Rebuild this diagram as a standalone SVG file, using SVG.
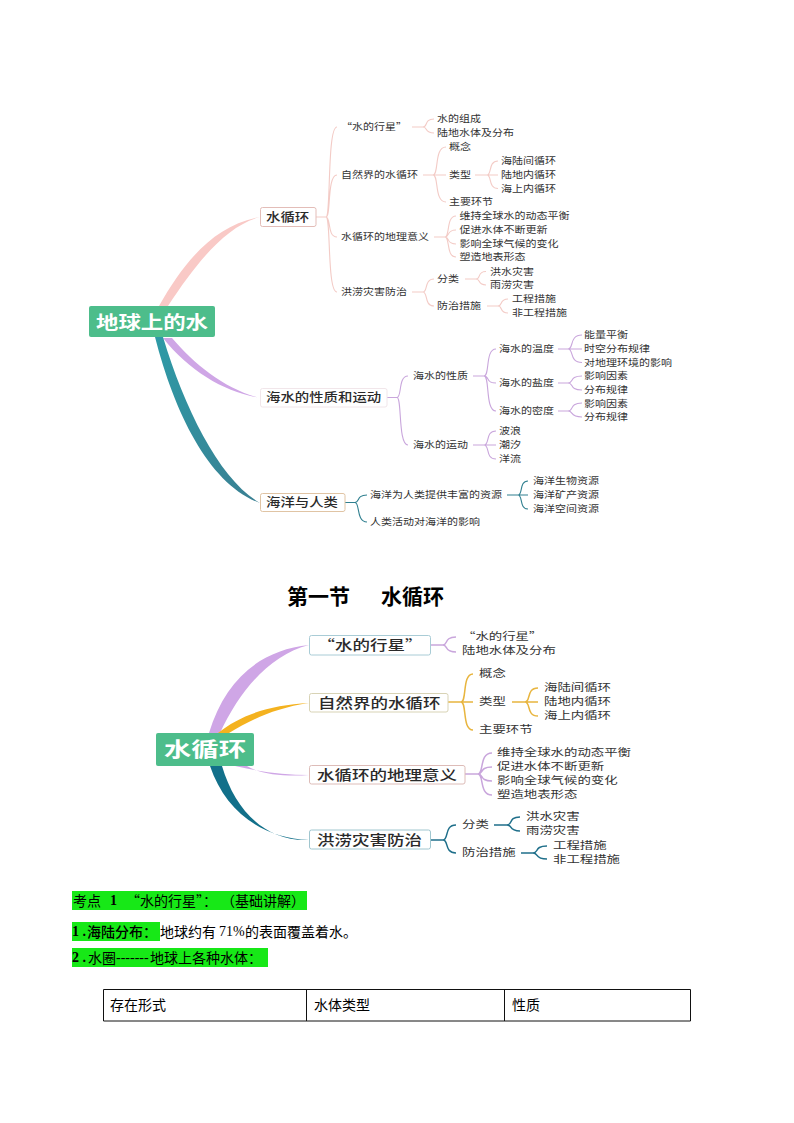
<svg xmlns="http://www.w3.org/2000/svg" width="794" height="1123" viewBox="0 0 794 1123">
<style>
text{font-family:"Noto Sans CJK SC","Noto Sans",sans-serif;fill:#333;dominant-baseline:central;transform:translateY(-1px)}
.root{font-size:18px;font-weight:700;fill:#fff}
.root2{font-size:20px;font-weight:700;fill:#fff}
.b{font-size:12.5px;font-weight:500;fill:#2a2a2a}
.b2{font-size:13.5px;font-weight:500;fill:#2a2a2a}
.t{font-size:9.6px}
.u{font-size:9.8px}
.box{fill:#fff;stroke-width:1}
.c{fill:none}
.pk{stroke:#f3cbc6;stroke-width:1.1}
.pu{stroke:#c9a6dc;stroke-width:1.1}
.te{stroke:#2f7f8f;stroke-width:1.1}
.pu2{stroke:#c9a6dc;stroke-width:1.5}
.or{stroke:#e8b53f;stroke-width:1.5}
.dt{stroke:#1f6f8a;stroke-width:1.5}
.doc{font-family:"Liberation Serif","Noto Sans CJK SC",serif;font-size:14px;fill:#000}
.cjk{font-family:"Noto Sans CJK SC",sans-serif}
.hl{fill:#17e817}
</style>
<defs>
<linearGradient id="gTeal" x1="0" y1="0" x2="1" y2="1"><stop offset="0" stop-color="#2e9aa6"/><stop offset="1" stop-color="#3a7f92"/></linearGradient>
</defs>
<rect width="794" height="1123" fill="#fff"/>

<g id="connectors-top">
<path fill="#f9c9c6" d="M159 306C185 260 215 225 260 217C225 226 195 265 168 306Z"/>
<path fill="#cfa6e6" d="M163 338C190 372 225 392 260 398C225 389 195 365 172 338Z"/>
<path fill="url(#gTeal)" d="M155 337C175 415 210 485 260 503C220 480 185 410 163 337Z"/>
<g class="c pk">
<path d="M316 217H326M326 217C331 217 327 127 337 127M326 217C331 217 327 175 337 175M326 217C331 217 327 237 337 237M326 217C331 217 327 292 337 292"/>
<path d="M412 127H423M423 127C428 127 424 119 434 119M423 127C428 127 424 133 434 133"/>
<path d="M423 175H446M433 175C439 175 434 147 446 147M433 175C439 175 434 202 446 202"/>
<path d="M475 175H498M487 175C492 175 488 161 498 161M487 175C492 175 488 188.500 498 188.500"/>
<path d="M434 237H445M445 237C450 237 446 216 456 216M445 237C450 237 446 230 456 230M445 237C450 237 446 244 456 244M445 237C450 237 446 257 456 257"/>
<path d="M412 292H423M423 292C428 292 424 279 434 279M423 292C428 292 424 306 434 306"/>
<path d="M465 279H476M476 279C481 279 477 271.500 486 271.500M476 279C481 279 477 285 486 285"/>
<path d="M487 306H498M498 306C503 306 499 299 508 299M498 306C503 306 499 313 508 313"/>
</g>
<g class="c pu">
<path d="M387 397.500H397M397 397.500C402 397.500 398 376 408 376M397 397.500C402 397.500 398 445 408 445"/>
<path d="M473 376H484M484 376C490 376 485 349 496 349M484 376C490 376 485 383 496 383M484 376C490 376 485 411 496 411"/>
<path d="M473 445H496M484 445C490 445 485 431 496 431M484 445C490 445 485 459 496 459"/>
<path d="M558 349H582M568 349C574 349 569 335 582 335M568 349C574 349 569 362.500 582 362.500"/>
<path d="M558 383H568M568 383C574 383 569 376 582 376M568 383C574 383 569 390 582 390"/>
<path d="M558 411H568M568 411C574 411 569 403 582 403M568 411C574 411 569 417 582 417"/>
</g>
<g class="c te">
<path d="M345 502.500H355M355 502.500C360 502.500 356 495 367 495M355 502.500C360 502.500 356 522 367 522"/>
<path d="M507 495H528M518 495C523 495 519 481 528 481M518 495C523 495 519 509 528 509"/>
</g>
</g>

<g id="connectors-bottom">
<path fill="#cfa6e6" d="M209 733C225 680 260 650 309 645C270 655 240 690 220 733Z"/>
<path fill="#f4b21f" d="M218 733C240 715 270 705 309 703C275 708 250 720 229 733Z"/>
<path fill="#cfa6e6" d="M235 766C260 772 285 775 309 775C285 777 260 774 247 766Z"/>
<path fill="#12708a" d="M210 766C225 810 260 838 309 840C265 842 235 810 222 766Z"/>
<g class="c pu2">
<path d="M431 645H443M443 645C448 645 444 637 456 637M443 645C448 645 444 652 456 652"/>
<path d="M465 774H478M478 774C484 774 479 753 492 753M478 774C484 774 479 767 492 767M478 774C484 774 479 781 492 781M478 774C484 774 479 795 492 795"/>
</g>
<g class="c or">
<path d="M448 702H473M461 702C467 702 462 674 473 674M461 702C467 702 462 730 473 730"/>
<path d="M512 702H538M525 702C531 702 526 688 538 688M525 702C531 702 526 716 538 716"/>
</g>
<g class="c dt">
<path d="M431 840H443M443 840C449 840 444 825 456 825M443 840C449 840 444 853 456 853"/>
<path d="M494 825H507M507 825C513 825 508 817 520 817M507 825C513 825 508 831 520 831"/>
<path d="M521 853H533M533 853C539 853 534 846 547 846M533 853C539 853 534 859 547 859"/>
</g>
</g>

<g id="map-top">
<g id="n-root"><rect x="89" y="306" width="126" height="31" rx="2" fill="#4dbd8b"/><text class="root" x="96" y="322" textLength="112" lengthAdjust="spacingAndGlyphs">地球上的水</text></g>
<g id="n-sxh"><rect class="box" x="260.500" y="207.500" width="55.500" height="19" rx="2" stroke="#e3bdb8"/><text class="b" x="266" y="217" textLength="43.200" lengthAdjust="spacingAndGlyphs">水循环</text></g>
<g id="n-hs"><rect class="box" x="260.500" y="388.500" width="126.500" height="18.500" rx="2" stroke="#f1e6ea"/><text class="b" x="266" y="397.500" textLength="115.200" lengthAdjust="spacingAndGlyphs">海水的性质和运动</text></g>
<g id="n-hy"><rect class="box" x="260.500" y="493.500" width="84.500" height="18" rx="2" stroke="#e0c4a4"/><text class="b" x="266" y="502" textLength="72" lengthAdjust="spacingAndGlyphs">海洋与人类</text></g>
<g id="n-t1"><text class="t" x="341" y="127" textLength="66" lengthAdjust="spacingAndGlyphs">“水的行星”</text></g>
<g id="n-t2"><text class="t" x="341" y="175" textLength="77" lengthAdjust="spacingAndGlyphs">自然界的水循环</text></g>
<g id="n-t3"><text class="t" x="341" y="237" textLength="88" lengthAdjust="spacingAndGlyphs">水循环的地理意义</text></g>
<g id="n-t4"><text class="t" x="341" y="292" textLength="66" lengthAdjust="spacingAndGlyphs">洪涝灾害防治</text></g>
<g id="n-t5"><text class="t" x="437" y="119" textLength="44" lengthAdjust="spacingAndGlyphs">水的组成</text></g>
<g id="n-t6"><text class="t" x="437" y="133" textLength="77" lengthAdjust="spacingAndGlyphs">陆地水体及分布</text></g>
<g id="n-t7"><text class="t" x="449" y="147" textLength="22" lengthAdjust="spacingAndGlyphs">概念</text></g>
<g id="n-t8"><text class="t" x="449" y="175" textLength="22" lengthAdjust="spacingAndGlyphs">类型</text></g>
<g id="n-t9"><text class="t" x="449" y="202" textLength="44" lengthAdjust="spacingAndGlyphs">主要环节</text></g>
<g id="n-t10"><text class="t" x="501" y="161" textLength="55" lengthAdjust="spacingAndGlyphs">海陆间循环</text></g>
<g id="n-t11"><text class="t" x="501" y="175" textLength="55" lengthAdjust="spacingAndGlyphs">陆地内循环</text></g>
<g id="n-t12"><text class="t" x="501" y="188.500" textLength="55" lengthAdjust="spacingAndGlyphs">海上内循环</text></g>
<g id="n-t13"><text class="t" x="459.500" y="216" textLength="110" lengthAdjust="spacingAndGlyphs">维持全球水的动态平衡</text></g>
<g id="n-t14"><text class="t" x="459.500" y="230" textLength="88" lengthAdjust="spacingAndGlyphs">促进水体不断更新</text></g>
<g id="n-t15"><text class="t" x="459.500" y="244" textLength="99" lengthAdjust="spacingAndGlyphs">影响全球气候的变化</text></g>
<g id="n-t16"><text class="t" x="459.500" y="257" textLength="66" lengthAdjust="spacingAndGlyphs">塑造地表形态</text></g>
<g id="n-t17"><text class="t" x="437" y="279" textLength="22" lengthAdjust="spacingAndGlyphs">分类</text></g>
<g id="n-t18"><text class="t" x="437" y="306" textLength="44" lengthAdjust="spacingAndGlyphs">防治措施</text></g>
<g id="n-t19"><text class="t" x="490" y="271.500" textLength="44" lengthAdjust="spacingAndGlyphs">洪水灾害</text></g>
<g id="n-t20"><text class="t" x="490" y="285" textLength="44" lengthAdjust="spacingAndGlyphs">雨涝灾害</text></g>
<g id="n-t21"><text class="t" x="512" y="299" textLength="44" lengthAdjust="spacingAndGlyphs">工程措施</text></g>
<g id="n-t22"><text class="t" x="512" y="313" textLength="55" lengthAdjust="spacingAndGlyphs">非工程措施</text></g>
<g id="n-t23"><text class="t" x="413" y="376" textLength="55" lengthAdjust="spacingAndGlyphs">海水的性质</text></g>
<g id="n-t24"><text class="t" x="413" y="445" textLength="55" lengthAdjust="spacingAndGlyphs">海水的运动</text></g>
<g id="n-t25"><text class="t" x="499" y="349" textLength="55" lengthAdjust="spacingAndGlyphs">海水的温度</text></g>
<g id="n-t26"><text class="t" x="499" y="383" textLength="55" lengthAdjust="spacingAndGlyphs">海水的盐度</text></g>
<g id="n-t27"><text class="t" x="499" y="411" textLength="55" lengthAdjust="spacingAndGlyphs">海水的密度</text></g>
<g id="n-t28"><text class="t" x="584" y="335" textLength="44" lengthAdjust="spacingAndGlyphs">能量平衡</text></g>
<g id="n-t29"><text class="t" x="584" y="349" textLength="66" lengthAdjust="spacingAndGlyphs">时空分布规律</text></g>
<g id="n-t30"><text class="t" x="584" y="362.500" textLength="88" lengthAdjust="spacingAndGlyphs">对地理环境的影响</text></g>
<g id="n-t31"><text class="t" x="584" y="376" textLength="44" lengthAdjust="spacingAndGlyphs">影响因素</text></g>
<g id="n-t32"><text class="t" x="584" y="390" textLength="44" lengthAdjust="spacingAndGlyphs">分布规律</text></g>
<g id="n-t33"><text class="t" x="584" y="403.500" textLength="44" lengthAdjust="spacingAndGlyphs">影响因素</text></g>
<g id="n-t34"><text class="t" x="584" y="417" textLength="44" lengthAdjust="spacingAndGlyphs">分布规律</text></g>
<g id="n-t35"><text class="t" x="499" y="431" textLength="22" lengthAdjust="spacingAndGlyphs">波浪</text></g>
<g id="n-t36"><text class="t" x="499" y="445" textLength="22" lengthAdjust="spacingAndGlyphs">潮汐</text></g>
<g id="n-t37"><text class="t" x="499" y="459" textLength="22" lengthAdjust="spacingAndGlyphs">洋流</text></g>
<g id="n-t38"><text class="t" x="370" y="495" textLength="132" lengthAdjust="spacingAndGlyphs">海洋为人类提供丰富的资源</text></g>
<g id="n-t39"><text class="t" x="370" y="522" textLength="110" lengthAdjust="spacingAndGlyphs">人类活动对海洋的影响</text></g>
<g id="n-t40"><text class="t" x="533" y="481" textLength="66" lengthAdjust="spacingAndGlyphs">海洋生物资源</text></g>
<g id="n-t41"><text class="t" x="533" y="495" textLength="66" lengthAdjust="spacingAndGlyphs">海洋矿产资源</text></g>
<g id="n-t42"><text class="t" x="533" y="509" textLength="66" lengthAdjust="spacingAndGlyphs">海洋空间资源</text></g>
</g>

<text x="287" y="596" style="font-size:21px;font-weight:700;fill:#000">第一节</text>
<text x="381" y="596" style="font-size:21px;font-weight:700;fill:#000">水循环</text>

<g id="map-bottom">
<g id="m-root"><rect x="156" y="733" width="98" height="33" rx="2" fill="#4dbd8b"/><text class="root2" x="164" y="749.500" textLength="82" lengthAdjust="spacingAndGlyphs">水循环</text></g>
<g id="m-b1"><rect class="box" x="309.500" y="635.500" width="121" height="19.500" rx="2" stroke="#a9ccd6"/><text class="b2" x="317.500" y="645" textLength="105" lengthAdjust="spacingAndGlyphs">“水的行星”</text></g>
<g id="m-b2"><rect class="box" x="309.500" y="693.500" width="138.500" height="18.500" rx="2" stroke="#d8d3b5"/><text class="b2" x="318" y="702.500" textLength="122.500" lengthAdjust="spacingAndGlyphs">自然界的水循环</text></g>
<g id="m-b3"><rect class="box" x="309.500" y="765.500" width="155.500" height="18.500" rx="2" stroke="#ddbcb8"/><text class="b2" x="317" y="774.500" textLength="140" lengthAdjust="spacingAndGlyphs">水循环的地理意义</text></g>
<g id="m-b4"><rect class="box" x="309.500" y="830" width="121" height="19" rx="2" stroke="#a0c6cf"/><text class="b2" x="317" y="839.500" textLength="105" lengthAdjust="spacingAndGlyphs">洪涝灾害防治</text></g>
<g id="m-t1"><text class="u" x="462" y="637" textLength="80.400" lengthAdjust="spacingAndGlyphs">“水的行星”</text></g>
<g id="m-t2"><text class="u" x="462" y="651" textLength="93.800" lengthAdjust="spacingAndGlyphs">陆地水体及分布</text></g>
<g id="m-t3"><text class="u" x="479" y="674" textLength="26.800" lengthAdjust="spacingAndGlyphs">概念</text></g>
<g id="m-t4"><text class="u" x="479" y="702" textLength="26.800" lengthAdjust="spacingAndGlyphs">类型</text></g>
<g id="m-t5"><text class="u" x="479" y="730" textLength="53.600" lengthAdjust="spacingAndGlyphs">主要环节</text></g>
<g id="m-t6"><text class="u" x="544" y="688" textLength="67" lengthAdjust="spacingAndGlyphs">海陆间循环</text></g>
<g id="m-t7"><text class="u" x="544" y="702" textLength="67" lengthAdjust="spacingAndGlyphs">陆地内循环</text></g>
<g id="m-t8"><text class="u" x="544" y="716" textLength="67" lengthAdjust="spacingAndGlyphs">海上内循环</text></g>
<g id="m-t9"><text class="u" x="497" y="753" textLength="134" lengthAdjust="spacingAndGlyphs">维持全球水的动态平衡</text></g>
<g id="m-t10"><text class="u" x="497" y="767" textLength="107.200" lengthAdjust="spacingAndGlyphs">促进水体不断更新</text></g>
<g id="m-t11"><text class="u" x="497" y="781" textLength="120.600" lengthAdjust="spacingAndGlyphs">影响全球气候的变化</text></g>
<g id="m-t12"><text class="u" x="497" y="795" textLength="80.400" lengthAdjust="spacingAndGlyphs">塑造地表形态</text></g>
<g id="m-t13"><text class="u" x="462" y="825" textLength="26.800" lengthAdjust="spacingAndGlyphs">分类</text></g>
<g id="m-t14"><text class="u" x="462" y="853" textLength="53.600" lengthAdjust="spacingAndGlyphs">防治措施</text></g>
<g id="m-t15"><text class="u" x="526" y="817" textLength="53.600" lengthAdjust="spacingAndGlyphs">洪水灾害</text></g>
<g id="m-t16"><text class="u" x="526" y="831" textLength="53.600" lengthAdjust="spacingAndGlyphs">雨涝灾害</text></g>
<g id="m-t17"><text class="u" x="553" y="846" textLength="53.600" lengthAdjust="spacingAndGlyphs">工程措施</text></g>
<g id="m-t18"><text class="u" x="553" y="860" textLength="67" lengthAdjust="spacingAndGlyphs">非工程措施</text></g>
</g>

<rect class="hl" x="72" y="891" width="235" height="19"/>
<rect class="hl" x="72" y="922" width="88" height="19"/>
<rect class="hl" x="72" y="948" width="196" height="19"/>
<text class="doc" y="900.500" style="font-weight:700"><tspan class="cjk" x="73" style="font-weight:400">考点</tspan><tspan x="110">1</tspan><tspan class="cjk" x="126" style="font-weight:400">“水的行星”：</tspan><tspan class="cjk" x="221" style="font-weight:400">（基础讲解）</tspan></text>
<text class="doc" y="931.500"><tspan x="72" style="font-weight:700">1 .</tspan><tspan class="cjk" x="87" style="font-weight:500">海陆分布：</tspan><tspan class="cjk" x="160">地球约有</tspan><tspan x="219">71%</tspan><tspan class="cjk" x="245">的表面覆盖着水。</tspan></text>
<text class="doc" y="957.500"><tspan x="72" style="font-weight:700">2 .</tspan><tspan class="cjk" x="88">水圈</tspan><tspan x="116">-------</tspan><tspan class="cjk" x="150">地球上各种水体：</tspan></text>

<g id="table">
<path d="M103.500 989.500H690.500V1021H103.500ZM306.500 989.500V1021M504.500 989.500V1021" fill="none" stroke="#111" stroke-width="1"/>
<text class="doc cjk" x="110" y="1005">存在形式</text>
<text class="doc cjk" x="314" y="1005">水体类型</text>
<text class="doc cjk" x="512" y="1005">性质</text>
</g>
</svg>
